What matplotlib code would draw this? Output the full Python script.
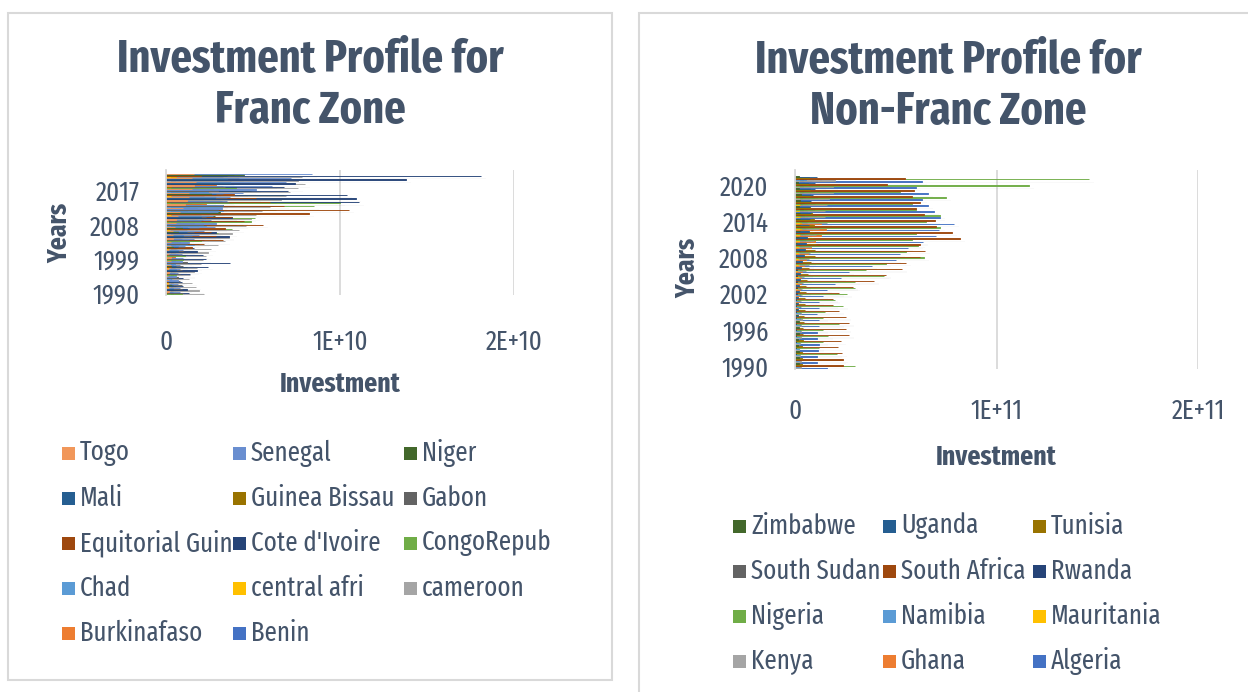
import os
import numpy as np
import matplotlib
matplotlib.use('Agg')
import matplotlib.pyplot as plt
from matplotlib import font_manager, transforms
from matplotlib.font_manager import FontProperties
from matplotlib.patches import Rectangle

TXT = '#44546A'
GRID = '#D9D9D9'

years = list(range(1990, 2023))

# Franc zone, billions (1990..2021)
benin = [0.3, 0.3, 0.3, 0.3, 0.3, 0.4, 0.4, 0.4, 0.4, 0.5, 0.5, 0.5, 0.6, 0.7, 0.7, 0.8, 0.9, 1.0, 1.2, 1.2, 1.3, 1.4, 1.6, 1.8, 2.0, 2.0, 2.1, 2.3, 2.5, 2.8, 3.0, 3.3]
burkinafaso = [0.4, 0.4, 0.4, 0.4, 0.3, 0.4, 0.5, 0.5, 0.5, 0.6, 0.5, 0.5, 0.6, 0.7, 0.8, 0.9, 1.1, 1.2, 1.5, 1.6, 1.8, 2.0, 2.2, 2.4, 2.3, 2.1, 2.2, 2.5, 2.7, 2.9, 2.8, 1.9]
cameroon = [2.2, 1.9, 1.7, 1.5, 1.3, 1.4, 1.6, 1.8, 2.0, 2.1, 2.3, 2.4, 2.6, 3.0, 3.4, 3.6, 3.8, 4.2, 4.6, 4.7, 4.9, 5.2, 5.5, 6.0, 6.3, 6.6, 6.9, 7.1, 7.6, 8.0, 7.6, 7.8]
central_afri = [0.1, 0.1, 0.1, 0.1, 0.1, 0.1, 0.1, 0.1, 0.1, 0.1, 0.1, 0.1, 0.1, 0.1, 0.1, 0.1, 0.2, 0.2, 0.2, 0.2, 0.3, 0.3, 0.3, 0.3, 0.2, 0.3, 0.3, 0.4, 0.4, 0.5, 0.5, 0.6]
chad = [0.4, 0.4, 0.3, 0.3, 0.3, 0.3, 0.4, 0.4, 0.5, 0.6, 0.8, 1.2, 1.5, 1.6, 1.2, 1.3, 1.6, 2.0, 2.3, 2.6, 3.0, 3.2, 3.3, 3.2, 3.7, 2.8, 2.2, 2.4, 2.6, 2.9, 3.0, 3.2]
congo_repub = [0.9, 0.7, 0.6, 0.7, 0.5, 0.6, 0.9, 1.2, 1.3, 1.0, 1.1, 1.4, 1.5, 1.7, 2.0, 2.6, 3.0, 3.8, 4.4, 4.9, 5.1, 5.4, 6.3, 8.5, 10.0, 8.1, 6.8, 4.9, 4.0, 3.6, 3.3, 3.5]
cote_divoire = [1.3, 1.2, 1.0, 0.9, 1.0, 1.4, 1.8, 2.4, 3.7, 2.3, 2.1, 1.8, 1.6, 1.9, 2.2, 3.6, 2.9, 3.2, 4.0, 4.4, 3.8, 3.5, 5.4, 6.2, 11.1, 10.9, 10.4, 7.0, 6.8, 7.4, 13.8, 18.1]
equitorial_guin = [0.1, 0.1, 0.1, 0.1, 0.1, 0.2, 0.5, 0.3, 0.4, 0.6, 0.8, 1.0, 1.5, 2.2, 3.3, 2.9, 2.6, 3.4, 5.6, 4.5, 3.8, 8.2, 10.5, 6.8, 6.0, 5.2, 3.9, 2.6, 2.3, 2.1, 1.9, 2.0]
gabon = [1.0, 0.9, 0.9, 0.8, 0.7, 0.8, 0.9, 1.0, 1.2, 1.0, 0.9, 1.0, 1.1, 1.2, 1.3, 1.5, 1.6, 1.9, 2.1, 2.0, 2.3, 2.6, 3.0, 3.3, 3.6, 3.5, 3.3, 3.0, 3.4, 3.7, 3.5, 3.6]
guinea_bissau = [0.05, 0.05, 0.05, 0.05, 0.04, 0.05, 0.05, 0.05, 0.03, 0.03, 0.04, 0.04, 0.04, 0.05, 0.06, 0.07, 0.08, 0.1, 0.12, 0.12, 0.14, 0.16, 0.15, 0.16, 0.18, 0.2, 0.22, 0.25, 0.27, 0.3, 0.3, 0.35]
mali = [0.4, 0.4, 0.4, 0.5, 0.5, 0.5, 0.6, 0.6, 0.6, 0.6, 0.7, 0.7, 0.7, 0.8, 0.9, 1.0, 1.2, 1.3, 1.5, 1.8, 2.0, 2.2, 2.1, 2.4, 2.6, 2.8, 2.9, 3.1, 3.3, 3.7, 3.5, 3.9]
niger = [0.3, 0.3, 0.3, 0.2, 0.2, 0.3, 0.3, 0.3, 0.3, 0.3, 0.3, 0.3, 0.4, 0.5, 0.5, 0.6, 0.7, 0.9, 1.6, 2.1, 2.8, 3.1, 2.7, 3.0, 3.2, 2.9, 2.6, 2.8, 3.2, 3.6, 4.2, 4.5]
senegal = [0.8, 0.8, 0.7, 0.7, 0.6, 0.7, 0.8, 0.8, 0.9, 1.0, 0.9, 1.0, 1.1, 1.3, 1.6, 1.9, 2.2, 2.8, 2.9, 2.6, 2.7, 3.0, 3.2, 3.3, 3.5, 3.7, 4.4, 5.2, 6.1, 6.9, 7.2, 8.4]
togo = [0.2, 0.2, 0.2, 0.2, 0.1, 0.2, 0.2, 0.3, 0.3, 0.3, 0.2, 0.2, 0.3, 0.3, 0.4, 0.4, 0.4, 0.5, 0.6, 0.6, 0.7, 0.8, 1.0, 1.1, 1.2, 1.3, 1.3, 1.5, 1.6, 1.7, 1.5, 1.6]

# Non-Franc zone, billions (1990..2021)
algeria = [16, 11, 11, 11.5, 12, 11, 11, 12, 12, 11, 12, 12, 13.7, 16, 20, 23, 27, 38, 50, 52, 56, 63.5, 70, 71.5, 79, 72, 69, 66, 63, 66, 60, 63]
ghana = [1, 1, 1, 1.2, 1.4, 1.5, 1.6, 1.7, 1.8, 2, 1.6, 1.8, 2, 2.4, 2.8, 3, 3.5, 4.5, 5.5, 6.5, 8, 10, 13, 15.5, 13, 14, 14.5, 15, 13.7, 15, 13, 15]
kenya = [3, 2.8, 2.5, 2.2, 2.6, 3, 3, 3.2, 3.3, 3.1, 3, 3.2, 3.4, 3.6, 4, 4.5, 5.5, 7, 7, 7.5, 8, 9.5, 10.5, 12, 16, 15, 15, 16, 17, 19, 19, 20]
mauritania = [0.3, 0.3, 0.3, 0.3, 0.3, 0.4, 0.4, 0.4, 0.4, 0.4, 0.5, 0.5, 0.6, 0.8, 1.2, 1.5, 1.2, 1.3, 1.4, 1.3, 1.4, 1.8, 2.5, 2.8, 2.9, 2.5, 2.2, 2.3, 2.4, 2.6, 2.5, 2.7]
namibia = [1.8, 1.9, 2, 2, 2.1, 2.2, 2.3, 2.3, 2.4, 2.4, 2.3, 2.2, 2.3, 2.6, 2.9, 3, 3.4, 4, 4.6, 5, 5.2, 5.5, 6, 6.3, 6.6, 7, 6.2, 6, 6.1, 5.8, 5.1, 5.4]
nigeria = [30, 23, 21, 12, 14, 16.5, 14, 22, 14, 15, 23.7, 20, 25.7, 30, 30, 44, 35, 45, 64, 55, 61, 58, 60, 72, 65, 72, 60, 58, 75, 52, 116, 146]
rwanda = [1, 1, 0.5, 0.5, 0.3, 0.4, 0.5, 0.6, 0.7, 0.7, 0.7, 0.7, 0.8, 0.8, 0.9, 1, 1.2, 1.5, 2, 2.3, 2.5, 2.8, 3.2, 3.5, 3.8, 4, 4.2, 4.5, 5, 5.5, 5.3, 6]
south_africa = [24, 24, 23.5, 21.5, 23, 27, 25.5, 27, 25.3, 22, 19, 19, 22, 29, 39, 45, 53, 55, 62, 64.5, 62, 82, 78, 70, 69.5, 64, 60, 62, 58, 59, 45.5, 54.6]
south_sudan = [0, 0, 0, 0, 0, 0, 0, 0, 0, 0, 0, 0, 0, 0, 0, 0, 0, 0, 0, 0, 0, 3.2, 1.5, 2.8, 3.6, 2.4, 1.8, 1.5, 1.7, 2.0, 1.9, 2.1]
tunisia = [3.5, 3.3, 3.5, 3.6, 3.8, 4, 4.2, 4.3, 4.6, 4.8, 5, 5.2, 5.5, 5.5, 6, 6.3, 7, 8, 10, 10, 10.5, 9, 9.5, 9.5, 9.2, 8.5, 7.5, 7.2, 7.4, 7.6, 6.5, 7]
uganda = [0.5, 0.5, 0.6, 0.7, 0.9, 1, 1.2, 1.3, 1.4, 1.5, 1.6, 1.7, 1.8, 2, 2.3, 2.6, 3, 3.5, 4.5, 5, 5.5, 6, 7, 7, 7.5, 8, 7.5, 8, 9, 10, 10, 11]
zimbabwe = [2, 2, 2, 1.5, 1.5, 2, 2, 2, 1.5, 1, 1, 0.5, 0.3, 0.3, 0.3, 0.4, 0.4, 0.4, 0.4, 0.5, 1, 2, 2.5, 2.5, 2.5, 2.5, 2.2, 2.5, 2.8, 2, 1.7, 1.8]

# Excel office palette, series order
PALETTE = ['#4472C4', '#ED7D31', '#A5A5A5', '#FFC000', '#5B9BD5', '#70AD47', '#264478',
           '#9E480E', '#636363', '#997300', '#255E91', '#43682B', '#698ED0', '#F1975A']

franc_names = ['Benin', 'Burkinafaso', 'cameroon', 'central afri', 'Chad', 'CongoRepub',
               "Cote d'Ivoire", 'Equitorial Guin', 'Gabon', 'Guinea Bissau', 'Mali', 'Niger',
               'Senegal', 'Togo']
franc_vals = [benin, burkinafaso, cameroon, central_afri, chad, congo_repub, cote_divoire,
              equitorial_guin, gabon, guinea_bissau, mali, niger, senegal, togo]
nonfranc_names = ['Algeria', 'Ghana', 'Kenya', 'Mauritania', 'Namibia', 'Nigeria', 'Rwanda',
                  'South Africa', 'South Sudan', 'Tunisia', 'Uganda', 'Zimbabwe']
nonfranc_vals = [algeria, ghana, kenya, mauritania, namibia, nigeria, rwanda, south_africa,
                 south_sudan, tunisia, uganda, zimbabwe]


# --- find a narrow font (the original uses a condensed face) ---
def _wnum(w):
    if isinstance(w, (int, float)):
        return int(w)
    return {'normal': 400, 'regular': 400, 'book': 400, 'medium': 500, 'bold': 700}.get(str(w).lower(), 400)


def _narrow_rank(f):
    key = (f.name + os.path.basename(f.fname)).lower().replace(' ', '').replace('-', '').replace('_', '')
    if 'ultracondensed' in key:
        return 100
    if 'extracondensed' in key:
        return 200
    if 'semicondensed' in key:
        return 400
    if 'condensed' in key or 'narrow' in key:
        return 300
    s = f.stretch
    if isinstance(s, str):
        s = {'ultra-condensed': 100, 'extra-condensed': 200, 'condensed': 300, 'semi-condensed': 400}.get(s, 500)
    return s


def pick_font(weight, target):
    best = None
    for f in font_manager.fontManager.ttflist:
        if f.style != 'normal' or abs(_wnum(f.weight) - weight) > 50:
            continue
        r = _narrow_rank(f)
        if r >= 500:
            continue
        score = abs(r - target)
        if best is None or score < best[0]:
            best = (score, f.fname, r)
    return best


_reg = pick_font(400, 200)
_bold = pick_font(700, 200)
_SCALE = {100: 1.15, 200: 1.0, 300: 0.86, 400: 0.76}


def fp(size, bold=False):
    f = _bold if bold else _reg
    if f:
        return FontProperties(fname=f[1], size=size * _SCALE.get(f[2], 1.0))
    return FontProperties(family='DejaVu Sans', weight='bold' if bold else 'normal', size=size * 0.72)


W, H = 1248, 692
fig = plt.figure(figsize=(W / 100, H / 100), dpi=100)


def fx(px):
    return px / W


def fy(py):
    return 1 - py / H


def box(x0, y0, x1, y1):
    return [fx(x0), fy(y1), (x1 - x0) / W, (y1 - y0) / H]


# panel frames
fig.patches.append(Rectangle((fx(8), fy(680)), (612 - 8) / W, (680 - 13) / H, transform=fig.transFigure,
                             fill=False, edgecolor=GRID, linewidth=1.5))
fig.patches.append(Rectangle((fx(639), fy(700)), (1260 - 639) / W, (700 - 13) / H, transform=fig.transFigure,
                             fill=False, edgecolor=GRID, linewidth=1.5))


def draw(ax, values, xmax, step, tick_labels, xpad):
    n = len(values)
    group = 0.9
    h = group / n
    shadow = transforms.offset_copy(ax.transData, fig=fig, x=5, y=-3, units='dots')
    for i, vals in enumerate(values):
        v = np.array(vals) * 1e9
        y = np.arange(len(v)) - group / 2 + h * (i + 0.5)
        sh = ax.barh(y, v, height=h * 3, color='black', alpha=0.025, linewidth=0)
        for p in sh:
            p.set_transform(shadow)
        c = PALETTE[i]
        ax.barh(y, v, height=h, color=c, edgecolor=c, linewidth=0.65)
    ax.set_ylim(-0.5, len(years) - 0.5)
    ax.set_xlim(0, xmax)
    idx = np.arange(len(years))
    ax.set_yticks(idx[::step])
    ax.set_yticklabels([str(y) for y in years[::step]])
    ax.set_xticks([0, xmax / 2, xmax])
    ax.set_xticklabels(tick_labels)
    ax.grid(axis='x', color=GRID, linewidth=1.3)
    ax.set_axisbelow(True)
    for s in ['top', 'right', 'bottom']:
        ax.spines[s].set_visible(False)
    ax.spines['left'].set_color(GRID)
    ax.spines['left'].set_linewidth(1.3)
    ax.tick_params(length=0, labelcolor=TXT)
    ax.tick_params(axis='x', pad=xpad)
    ax.tick_params(axis='y', pad=19)
    for lbl in ax.get_xticklabels() + ax.get_yticklabels():
        lbl.set_fontproperties(fp(19.5))


def legend(names, x0, y0, dx, dy):
    order = names[::-1]
    colors = PALETTE[:len(names)][::-1]
    for k, (name, c) in enumerate(zip(order, colors)):
        r, col = divmod(k, 3)
        x = x0 + col * dx
        y = y0 + r * dy
        fig.patches.append(Rectangle((fx(x), fy(y + 6.5)), 13 / W, 13 / H, transform=fig.transFigure,
                                     facecolor=c, edgecolor='none'))
        fig.text(fx(x + 18), fy(y), name, fontproperties=fp(19.5), color=TXT, va='center', ha='left')


axL = fig.add_axes(box(166, 170, 514, 295))
draw(axL, franc_vals, 2e10, 9, ['0', '1E+10', '2E+10'], 24)
axR = fig.add_axes(box(795, 170, 1198, 369))
draw(axR, nonfranc_vals, 2e11, 6, ['0', '1E+11', '2E+11'], 21)

title_kw = dict(color=TXT, ha='center', va='center', linespacing=1.19)
fig.text(fx(310), fy(86), 'Investment Profile for\nFranc Zone', fontproperties=fp(33, True), **title_kw)
fig.text(fx(948), fy(87), 'Investment Profile for\nNon-Franc Zone', fontproperties=fp(33, True), **title_kw)

lab_kw = dict(color=TXT, ha='center', va='center')
fig.text(fx(60), fy(233), 'Years', rotation=90, fontproperties=fp(20, True), **lab_kw)
fig.text(fx(340), fy(384), 'Investment', fontproperties=fp(20, True), **lab_kw)
fig.text(fx(688), fy(268), 'Years', rotation=90, fontproperties=fp(20, True), **lab_kw)
fig.text(fx(996), fy(457), 'Investment', fontproperties=fp(20, True), **lab_kw)

legend(franc_names, 62, 453, 171, 45)
legend(nonfranc_names, 733, 526, 150, 45)

fig.savefig('out.png', dpi=100)
